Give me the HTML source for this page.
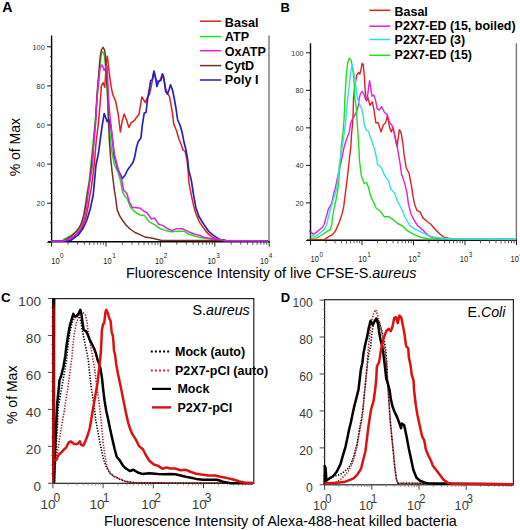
<!DOCTYPE html><html><head><meta charset="utf-8"><style>html,body{margin:0;padding:0;background:#fff;width:520px;height:530px;overflow:hidden}svg{display:block}</style></head><body><svg width="520" height="530" viewBox="0 0 520 530" font-family='"Liberation Sans", sans-serif'>
<rect width="520" height="530" fill="#fff"/>
<line x1="269.0" y1="35.5" x2="269.0" y2="241.8" stroke="#777" stroke-width="1.4"/>
<line x1="51.6" y1="35.5" x2="51.6" y2="242.5" stroke="#000" stroke-width="1.4"/>
<line x1="48.1" y1="241.8" x2="269.6" y2="241.8" stroke="#000" stroke-width="1.4"/>
<line x1="47.1" y1="242.30" x2="51.6" y2="242.30" stroke="#111" stroke-width="1"/>
<line x1="50.0" y1="232.53" x2="51.6" y2="232.53" stroke="#333" stroke-width="0.9"/>
<line x1="50.0" y1="222.75" x2="51.6" y2="222.75" stroke="#333" stroke-width="0.9"/>
<line x1="50.0" y1="212.98" x2="51.6" y2="212.98" stroke="#333" stroke-width="0.9"/>
<line x1="47.1" y1="203.20" x2="51.6" y2="203.20" stroke="#111" stroke-width="1"/>
<line x1="50.0" y1="193.43" x2="51.6" y2="193.43" stroke="#333" stroke-width="0.9"/>
<line x1="50.0" y1="183.65" x2="51.6" y2="183.65" stroke="#333" stroke-width="0.9"/>
<line x1="50.0" y1="173.88" x2="51.6" y2="173.88" stroke="#333" stroke-width="0.9"/>
<line x1="47.1" y1="164.10" x2="51.6" y2="164.10" stroke="#111" stroke-width="1"/>
<line x1="50.0" y1="154.32" x2="51.6" y2="154.32" stroke="#333" stroke-width="0.9"/>
<line x1="50.0" y1="144.55" x2="51.6" y2="144.55" stroke="#333" stroke-width="0.9"/>
<line x1="50.0" y1="134.78" x2="51.6" y2="134.78" stroke="#333" stroke-width="0.9"/>
<line x1="47.1" y1="125.00" x2="51.6" y2="125.00" stroke="#111" stroke-width="1"/>
<line x1="50.0" y1="115.23" x2="51.6" y2="115.23" stroke="#333" stroke-width="0.9"/>
<line x1="50.0" y1="105.45" x2="51.6" y2="105.45" stroke="#333" stroke-width="0.9"/>
<line x1="50.0" y1="95.68" x2="51.6" y2="95.68" stroke="#333" stroke-width="0.9"/>
<line x1="47.1" y1="85.90" x2="51.6" y2="85.90" stroke="#111" stroke-width="1"/>
<line x1="50.0" y1="76.12" x2="51.6" y2="76.12" stroke="#333" stroke-width="0.9"/>
<line x1="50.0" y1="66.35" x2="51.6" y2="66.35" stroke="#333" stroke-width="0.9"/>
<line x1="50.0" y1="56.58" x2="51.6" y2="56.58" stroke="#333" stroke-width="0.9"/>
<line x1="47.1" y1="46.80" x2="51.6" y2="46.80" stroke="#111" stroke-width="1"/>
<text transform="translate(44.8,206.05) scale(0.92,1)" font-size="8" text-anchor="end" fill="#333">20</text>
<text transform="translate(44.8,166.95) scale(0.92,1)" font-size="8" text-anchor="end" fill="#333">40</text>
<text transform="translate(44.8,127.85) scale(0.92,1)" font-size="8" text-anchor="end" fill="#333">60</text>
<text transform="translate(44.8,88.75) scale(0.92,1)" font-size="8" text-anchor="end" fill="#333">80</text>
<text transform="translate(44.8,49.65) scale(0.92,1)" font-size="8" text-anchor="end" fill="#333">100</text>
<line x1="51.60" y1="241.8" x2="51.60" y2="246.60000000000002" stroke="#222" stroke-width="1"/>
<line x1="67.98" y1="241.8" x2="67.98" y2="244.70000000000002" stroke="#444" stroke-width="0.9"/>
<line x1="77.56" y1="241.8" x2="77.56" y2="244.70000000000002" stroke="#444" stroke-width="0.9"/>
<line x1="84.35" y1="241.8" x2="84.35" y2="244.70000000000002" stroke="#444" stroke-width="0.9"/>
<line x1="89.62" y1="241.8" x2="89.62" y2="245.10000000000002" stroke="#444" stroke-width="0.9"/>
<line x1="93.93" y1="241.8" x2="93.93" y2="244.70000000000002" stroke="#444" stroke-width="0.9"/>
<line x1="97.57" y1="241.8" x2="97.57" y2="244.70000000000002" stroke="#444" stroke-width="0.9"/>
<line x1="100.73" y1="241.8" x2="100.73" y2="244.70000000000002" stroke="#444" stroke-width="0.9"/>
<line x1="103.51" y1="241.8" x2="103.51" y2="244.70000000000002" stroke="#444" stroke-width="0.9"/>
<line x1="106.00" y1="241.8" x2="106.00" y2="246.60000000000002" stroke="#222" stroke-width="1"/>
<line x1="122.38" y1="241.8" x2="122.38" y2="244.70000000000002" stroke="#444" stroke-width="0.9"/>
<line x1="131.96" y1="241.8" x2="131.96" y2="244.70000000000002" stroke="#444" stroke-width="0.9"/>
<line x1="138.75" y1="241.8" x2="138.75" y2="244.70000000000002" stroke="#444" stroke-width="0.9"/>
<line x1="144.02" y1="241.8" x2="144.02" y2="245.10000000000002" stroke="#444" stroke-width="0.9"/>
<line x1="148.33" y1="241.8" x2="148.33" y2="244.70000000000002" stroke="#444" stroke-width="0.9"/>
<line x1="151.97" y1="241.8" x2="151.97" y2="244.70000000000002" stroke="#444" stroke-width="0.9"/>
<line x1="155.13" y1="241.8" x2="155.13" y2="244.70000000000002" stroke="#444" stroke-width="0.9"/>
<line x1="157.91" y1="241.8" x2="157.91" y2="244.70000000000002" stroke="#444" stroke-width="0.9"/>
<line x1="160.40" y1="241.8" x2="160.40" y2="246.60000000000002" stroke="#222" stroke-width="1"/>
<line x1="176.78" y1="241.8" x2="176.78" y2="244.70000000000002" stroke="#444" stroke-width="0.9"/>
<line x1="186.36" y1="241.8" x2="186.36" y2="244.70000000000002" stroke="#444" stroke-width="0.9"/>
<line x1="193.15" y1="241.8" x2="193.15" y2="244.70000000000002" stroke="#444" stroke-width="0.9"/>
<line x1="198.42" y1="241.8" x2="198.42" y2="245.10000000000002" stroke="#444" stroke-width="0.9"/>
<line x1="202.73" y1="241.8" x2="202.73" y2="244.70000000000002" stroke="#444" stroke-width="0.9"/>
<line x1="206.37" y1="241.8" x2="206.37" y2="244.70000000000002" stroke="#444" stroke-width="0.9"/>
<line x1="209.53" y1="241.8" x2="209.53" y2="244.70000000000002" stroke="#444" stroke-width="0.9"/>
<line x1="212.31" y1="241.8" x2="212.31" y2="244.70000000000002" stroke="#444" stroke-width="0.9"/>
<line x1="214.80" y1="241.8" x2="214.80" y2="246.60000000000002" stroke="#222" stroke-width="1"/>
<line x1="231.18" y1="241.8" x2="231.18" y2="244.70000000000002" stroke="#444" stroke-width="0.9"/>
<line x1="240.76" y1="241.8" x2="240.76" y2="244.70000000000002" stroke="#444" stroke-width="0.9"/>
<line x1="247.55" y1="241.8" x2="247.55" y2="244.70000000000002" stroke="#444" stroke-width="0.9"/>
<line x1="252.82" y1="241.8" x2="252.82" y2="245.10000000000002" stroke="#444" stroke-width="0.9"/>
<line x1="257.13" y1="241.8" x2="257.13" y2="244.70000000000002" stroke="#444" stroke-width="0.9"/>
<line x1="260.77" y1="241.8" x2="260.77" y2="244.70000000000002" stroke="#444" stroke-width="0.9"/>
<line x1="263.93" y1="241.8" x2="263.93" y2="244.70000000000002" stroke="#444" stroke-width="0.9"/>
<line x1="266.71" y1="241.8" x2="266.71" y2="244.70000000000002" stroke="#444" stroke-width="0.9"/>
<line x1="269.20" y1="241.8" x2="269.20" y2="246.60000000000002" stroke="#222" stroke-width="1"/>
<line x1="516.4" y1="43.3" x2="516.4" y2="240.3" stroke="#777" stroke-width="1.4"/>
<line x1="310.5" y1="43.3" x2="310.5" y2="241.0" stroke="#000" stroke-width="1.4"/>
<line x1="307.0" y1="240.3" x2="517.0" y2="240.3" stroke="#000" stroke-width="1.4"/>
<line x1="306.0" y1="240.40" x2="310.5" y2="240.40" stroke="#111" stroke-width="1"/>
<line x1="308.9" y1="231.02" x2="310.5" y2="231.02" stroke="#333" stroke-width="0.9"/>
<line x1="308.9" y1="221.64" x2="310.5" y2="221.64" stroke="#333" stroke-width="0.9"/>
<line x1="308.9" y1="212.26" x2="310.5" y2="212.26" stroke="#333" stroke-width="0.9"/>
<line x1="306.0" y1="202.88" x2="310.5" y2="202.88" stroke="#111" stroke-width="1"/>
<line x1="308.9" y1="193.50" x2="310.5" y2="193.50" stroke="#333" stroke-width="0.9"/>
<line x1="308.9" y1="184.12" x2="310.5" y2="184.12" stroke="#333" stroke-width="0.9"/>
<line x1="308.9" y1="174.74" x2="310.5" y2="174.74" stroke="#333" stroke-width="0.9"/>
<line x1="306.0" y1="165.36" x2="310.5" y2="165.36" stroke="#111" stroke-width="1"/>
<line x1="308.9" y1="155.98" x2="310.5" y2="155.98" stroke="#333" stroke-width="0.9"/>
<line x1="308.9" y1="146.60" x2="310.5" y2="146.60" stroke="#333" stroke-width="0.9"/>
<line x1="308.9" y1="137.22" x2="310.5" y2="137.22" stroke="#333" stroke-width="0.9"/>
<line x1="306.0" y1="127.84" x2="310.5" y2="127.84" stroke="#111" stroke-width="1"/>
<line x1="308.9" y1="118.46" x2="310.5" y2="118.46" stroke="#333" stroke-width="0.9"/>
<line x1="308.9" y1="109.08" x2="310.5" y2="109.08" stroke="#333" stroke-width="0.9"/>
<line x1="308.9" y1="99.70" x2="310.5" y2="99.70" stroke="#333" stroke-width="0.9"/>
<line x1="306.0" y1="90.32" x2="310.5" y2="90.32" stroke="#111" stroke-width="1"/>
<line x1="308.9" y1="80.94" x2="310.5" y2="80.94" stroke="#333" stroke-width="0.9"/>
<line x1="308.9" y1="71.56" x2="310.5" y2="71.56" stroke="#333" stroke-width="0.9"/>
<line x1="308.9" y1="62.18" x2="310.5" y2="62.18" stroke="#333" stroke-width="0.9"/>
<line x1="306.0" y1="52.80" x2="310.5" y2="52.80" stroke="#111" stroke-width="1"/>
<text transform="translate(303.6,205.73) scale(0.92,1)" font-size="8" text-anchor="end" fill="#333">20</text>
<text transform="translate(303.6,168.21) scale(0.92,1)" font-size="8" text-anchor="end" fill="#333">40</text>
<text transform="translate(303.6,130.69) scale(0.92,1)" font-size="8" text-anchor="end" fill="#333">60</text>
<text transform="translate(303.6,93.17) scale(0.92,1)" font-size="8" text-anchor="end" fill="#333">80</text>
<text transform="translate(303.6,55.65) scale(0.92,1)" font-size="8" text-anchor="end" fill="#333">100</text>
<line x1="310.50" y1="240.3" x2="310.50" y2="245.10000000000002" stroke="#222" stroke-width="1"/>
<line x1="326.00" y1="240.3" x2="326.00" y2="243.20000000000002" stroke="#444" stroke-width="0.9"/>
<line x1="335.07" y1="240.3" x2="335.07" y2="243.20000000000002" stroke="#444" stroke-width="0.9"/>
<line x1="341.51" y1="240.3" x2="341.51" y2="243.20000000000002" stroke="#444" stroke-width="0.9"/>
<line x1="346.50" y1="240.3" x2="346.50" y2="243.60000000000002" stroke="#444" stroke-width="0.9"/>
<line x1="350.57" y1="240.3" x2="350.57" y2="243.20000000000002" stroke="#444" stroke-width="0.9"/>
<line x1="354.02" y1="240.3" x2="354.02" y2="243.20000000000002" stroke="#444" stroke-width="0.9"/>
<line x1="357.01" y1="240.3" x2="357.01" y2="243.20000000000002" stroke="#444" stroke-width="0.9"/>
<line x1="359.64" y1="240.3" x2="359.64" y2="243.20000000000002" stroke="#444" stroke-width="0.9"/>
<line x1="362.00" y1="240.3" x2="362.00" y2="245.10000000000002" stroke="#222" stroke-width="1"/>
<line x1="377.50" y1="240.3" x2="377.50" y2="243.20000000000002" stroke="#444" stroke-width="0.9"/>
<line x1="386.57" y1="240.3" x2="386.57" y2="243.20000000000002" stroke="#444" stroke-width="0.9"/>
<line x1="393.01" y1="240.3" x2="393.01" y2="243.20000000000002" stroke="#444" stroke-width="0.9"/>
<line x1="398.00" y1="240.3" x2="398.00" y2="243.60000000000002" stroke="#444" stroke-width="0.9"/>
<line x1="402.07" y1="240.3" x2="402.07" y2="243.20000000000002" stroke="#444" stroke-width="0.9"/>
<line x1="405.52" y1="240.3" x2="405.52" y2="243.20000000000002" stroke="#444" stroke-width="0.9"/>
<line x1="408.51" y1="240.3" x2="408.51" y2="243.20000000000002" stroke="#444" stroke-width="0.9"/>
<line x1="411.14" y1="240.3" x2="411.14" y2="243.20000000000002" stroke="#444" stroke-width="0.9"/>
<line x1="413.50" y1="240.3" x2="413.50" y2="245.10000000000002" stroke="#222" stroke-width="1"/>
<line x1="429.00" y1="240.3" x2="429.00" y2="243.20000000000002" stroke="#444" stroke-width="0.9"/>
<line x1="438.07" y1="240.3" x2="438.07" y2="243.20000000000002" stroke="#444" stroke-width="0.9"/>
<line x1="444.51" y1="240.3" x2="444.51" y2="243.20000000000002" stroke="#444" stroke-width="0.9"/>
<line x1="449.50" y1="240.3" x2="449.50" y2="243.60000000000002" stroke="#444" stroke-width="0.9"/>
<line x1="453.57" y1="240.3" x2="453.57" y2="243.20000000000002" stroke="#444" stroke-width="0.9"/>
<line x1="457.02" y1="240.3" x2="457.02" y2="243.20000000000002" stroke="#444" stroke-width="0.9"/>
<line x1="460.01" y1="240.3" x2="460.01" y2="243.20000000000002" stroke="#444" stroke-width="0.9"/>
<line x1="462.64" y1="240.3" x2="462.64" y2="243.20000000000002" stroke="#444" stroke-width="0.9"/>
<line x1="465.00" y1="240.3" x2="465.00" y2="245.10000000000002" stroke="#222" stroke-width="1"/>
<line x1="480.50" y1="240.3" x2="480.50" y2="243.20000000000002" stroke="#444" stroke-width="0.9"/>
<line x1="489.57" y1="240.3" x2="489.57" y2="243.20000000000002" stroke="#444" stroke-width="0.9"/>
<line x1="496.01" y1="240.3" x2="496.01" y2="243.20000000000002" stroke="#444" stroke-width="0.9"/>
<line x1="501.00" y1="240.3" x2="501.00" y2="243.60000000000002" stroke="#444" stroke-width="0.9"/>
<line x1="505.07" y1="240.3" x2="505.07" y2="243.20000000000002" stroke="#444" stroke-width="0.9"/>
<line x1="508.52" y1="240.3" x2="508.52" y2="243.20000000000002" stroke="#444" stroke-width="0.9"/>
<line x1="511.51" y1="240.3" x2="511.51" y2="243.20000000000002" stroke="#444" stroke-width="0.9"/>
<line x1="514.14" y1="240.3" x2="514.14" y2="243.20000000000002" stroke="#444" stroke-width="0.9"/>
<line x1="516.50" y1="240.3" x2="516.50" y2="245.10000000000002" stroke="#222" stroke-width="1"/>
<rect x="52.9" y="298.6" width="200.9" height="184.7" fill="none" stroke="#222" stroke-width="1.2"/>
<line x1="47.9" y1="483.30" x2="52.9" y2="483.30" stroke="#444" stroke-width="1"/>
<line x1="50.9" y1="474.06" x2="52.9" y2="474.06" stroke="#888" stroke-width="0.9"/>
<line x1="50.9" y1="464.82" x2="52.9" y2="464.82" stroke="#888" stroke-width="0.9"/>
<line x1="50.9" y1="455.58" x2="52.9" y2="455.58" stroke="#888" stroke-width="0.9"/>
<line x1="47.9" y1="446.34" x2="52.9" y2="446.34" stroke="#444" stroke-width="1"/>
<line x1="50.9" y1="437.10" x2="52.9" y2="437.10" stroke="#888" stroke-width="0.9"/>
<line x1="50.9" y1="427.86" x2="52.9" y2="427.86" stroke="#888" stroke-width="0.9"/>
<line x1="50.9" y1="418.62" x2="52.9" y2="418.62" stroke="#888" stroke-width="0.9"/>
<line x1="47.9" y1="409.38" x2="52.9" y2="409.38" stroke="#444" stroke-width="1"/>
<line x1="50.9" y1="400.14" x2="52.9" y2="400.14" stroke="#888" stroke-width="0.9"/>
<line x1="50.9" y1="390.90" x2="52.9" y2="390.90" stroke="#888" stroke-width="0.9"/>
<line x1="50.9" y1="381.66" x2="52.9" y2="381.66" stroke="#888" stroke-width="0.9"/>
<line x1="47.9" y1="372.42" x2="52.9" y2="372.42" stroke="#444" stroke-width="1"/>
<line x1="50.9" y1="363.18" x2="52.9" y2="363.18" stroke="#888" stroke-width="0.9"/>
<line x1="50.9" y1="353.94" x2="52.9" y2="353.94" stroke="#888" stroke-width="0.9"/>
<line x1="50.9" y1="344.70" x2="52.9" y2="344.70" stroke="#888" stroke-width="0.9"/>
<line x1="47.9" y1="335.46" x2="52.9" y2="335.46" stroke="#444" stroke-width="1"/>
<line x1="50.9" y1="326.22" x2="52.9" y2="326.22" stroke="#888" stroke-width="0.9"/>
<line x1="50.9" y1="316.98" x2="52.9" y2="316.98" stroke="#888" stroke-width="0.9"/>
<line x1="50.9" y1="307.74" x2="52.9" y2="307.74" stroke="#888" stroke-width="0.9"/>
<line x1="47.9" y1="298.50" x2="52.9" y2="298.50" stroke="#444" stroke-width="1"/>
<text transform="translate(40.9,490.50) scale(1.0,1)" font-size="13.5" text-anchor="end" fill="#3a3a3a">0</text>
<text transform="translate(40.9,453.54) scale(1.0,1)" font-size="13.5" text-anchor="end" fill="#3a3a3a">20</text>
<text transform="translate(40.9,416.58) scale(1.0,1)" font-size="13.5" text-anchor="end" fill="#3a3a3a">40</text>
<text transform="translate(40.9,379.62) scale(1.0,1)" font-size="13.5" text-anchor="end" fill="#3a3a3a">60</text>
<text transform="translate(40.9,342.66) scale(1.0,1)" font-size="13.5" text-anchor="end" fill="#3a3a3a">80</text>
<text transform="translate(40.9,305.70) scale(1.0,1)" font-size="13.5" text-anchor="end" fill="#3a3a3a">100</text>
<line x1="52.90" y1="483.3" x2="52.90" y2="488.3" stroke="#444" stroke-width="1"/>
<line x1="68.01" y1="483.3" x2="68.01" y2="485.5" stroke="#888" stroke-width="0.9"/>
<line x1="76.85" y1="483.3" x2="76.85" y2="485.5" stroke="#888" stroke-width="0.9"/>
<line x1="83.12" y1="483.3" x2="83.12" y2="485.5" stroke="#888" stroke-width="0.9"/>
<line x1="87.99" y1="483.3" x2="87.99" y2="485.5" stroke="#888" stroke-width="0.9"/>
<line x1="91.96" y1="483.3" x2="91.96" y2="485.5" stroke="#888" stroke-width="0.9"/>
<line x1="95.32" y1="483.3" x2="95.32" y2="485.5" stroke="#888" stroke-width="0.9"/>
<line x1="98.24" y1="483.3" x2="98.24" y2="485.5" stroke="#888" stroke-width="0.9"/>
<line x1="100.80" y1="483.3" x2="100.80" y2="485.5" stroke="#888" stroke-width="0.9"/>
<line x1="103.10" y1="483.3" x2="103.10" y2="488.3" stroke="#444" stroke-width="1"/>
<line x1="118.21" y1="483.3" x2="118.21" y2="485.5" stroke="#888" stroke-width="0.9"/>
<line x1="127.05" y1="483.3" x2="127.05" y2="485.5" stroke="#888" stroke-width="0.9"/>
<line x1="133.32" y1="483.3" x2="133.32" y2="485.5" stroke="#888" stroke-width="0.9"/>
<line x1="138.19" y1="483.3" x2="138.19" y2="485.5" stroke="#888" stroke-width="0.9"/>
<line x1="142.16" y1="483.3" x2="142.16" y2="485.5" stroke="#888" stroke-width="0.9"/>
<line x1="145.52" y1="483.3" x2="145.52" y2="485.5" stroke="#888" stroke-width="0.9"/>
<line x1="148.44" y1="483.3" x2="148.44" y2="485.5" stroke="#888" stroke-width="0.9"/>
<line x1="151.00" y1="483.3" x2="151.00" y2="485.5" stroke="#888" stroke-width="0.9"/>
<line x1="153.30" y1="483.3" x2="153.30" y2="488.3" stroke="#444" stroke-width="1"/>
<line x1="168.41" y1="483.3" x2="168.41" y2="485.5" stroke="#888" stroke-width="0.9"/>
<line x1="177.25" y1="483.3" x2="177.25" y2="485.5" stroke="#888" stroke-width="0.9"/>
<line x1="183.52" y1="483.3" x2="183.52" y2="485.5" stroke="#888" stroke-width="0.9"/>
<line x1="188.39" y1="483.3" x2="188.39" y2="485.5" stroke="#888" stroke-width="0.9"/>
<line x1="192.36" y1="483.3" x2="192.36" y2="485.5" stroke="#888" stroke-width="0.9"/>
<line x1="195.72" y1="483.3" x2="195.72" y2="485.5" stroke="#888" stroke-width="0.9"/>
<line x1="198.64" y1="483.3" x2="198.64" y2="485.5" stroke="#888" stroke-width="0.9"/>
<line x1="201.20" y1="483.3" x2="201.20" y2="485.5" stroke="#888" stroke-width="0.9"/>
<line x1="203.50" y1="483.3" x2="203.50" y2="488.3" stroke="#444" stroke-width="1"/>
<line x1="218.61" y1="483.3" x2="218.61" y2="485.5" stroke="#888" stroke-width="0.9"/>
<line x1="227.45" y1="483.3" x2="227.45" y2="485.5" stroke="#888" stroke-width="0.9"/>
<line x1="233.72" y1="483.3" x2="233.72" y2="485.5" stroke="#888" stroke-width="0.9"/>
<line x1="238.59" y1="483.3" x2="238.59" y2="485.5" stroke="#888" stroke-width="0.9"/>
<line x1="242.56" y1="483.3" x2="242.56" y2="485.5" stroke="#888" stroke-width="0.9"/>
<line x1="245.92" y1="483.3" x2="245.92" y2="485.5" stroke="#888" stroke-width="0.9"/>
<line x1="248.84" y1="483.3" x2="248.84" y2="485.5" stroke="#888" stroke-width="0.9"/>
<line x1="251.40" y1="483.3" x2="251.40" y2="485.5" stroke="#888" stroke-width="0.9"/>
<rect x="324.6" y="299.7" width="188.79999999999995" height="185.10000000000002" fill="none" stroke="#222" stroke-width="1.2"/>
<line x1="319.6" y1="484.80" x2="324.6" y2="484.80" stroke="#444" stroke-width="1"/>
<line x1="322.6" y1="475.56" x2="324.6" y2="475.56" stroke="#888" stroke-width="0.9"/>
<line x1="322.6" y1="466.33" x2="324.6" y2="466.33" stroke="#888" stroke-width="0.9"/>
<line x1="322.6" y1="457.10" x2="324.6" y2="457.10" stroke="#888" stroke-width="0.9"/>
<line x1="319.6" y1="447.86" x2="324.6" y2="447.86" stroke="#444" stroke-width="1"/>
<line x1="322.6" y1="438.62" x2="324.6" y2="438.62" stroke="#888" stroke-width="0.9"/>
<line x1="322.6" y1="429.39" x2="324.6" y2="429.39" stroke="#888" stroke-width="0.9"/>
<line x1="322.6" y1="420.16" x2="324.6" y2="420.16" stroke="#888" stroke-width="0.9"/>
<line x1="319.6" y1="410.92" x2="324.6" y2="410.92" stroke="#444" stroke-width="1"/>
<line x1="322.6" y1="401.69" x2="324.6" y2="401.69" stroke="#888" stroke-width="0.9"/>
<line x1="322.6" y1="392.45" x2="324.6" y2="392.45" stroke="#888" stroke-width="0.9"/>
<line x1="322.6" y1="383.22" x2="324.6" y2="383.22" stroke="#888" stroke-width="0.9"/>
<line x1="319.6" y1="373.98" x2="324.6" y2="373.98" stroke="#444" stroke-width="1"/>
<line x1="322.6" y1="364.75" x2="324.6" y2="364.75" stroke="#888" stroke-width="0.9"/>
<line x1="322.6" y1="355.51" x2="324.6" y2="355.51" stroke="#888" stroke-width="0.9"/>
<line x1="322.6" y1="346.27" x2="324.6" y2="346.27" stroke="#888" stroke-width="0.9"/>
<line x1="319.6" y1="337.04" x2="324.6" y2="337.04" stroke="#444" stroke-width="1"/>
<line x1="322.6" y1="327.81" x2="324.6" y2="327.81" stroke="#888" stroke-width="0.9"/>
<line x1="322.6" y1="318.57" x2="324.6" y2="318.57" stroke="#888" stroke-width="0.9"/>
<line x1="322.6" y1="309.34" x2="324.6" y2="309.34" stroke="#888" stroke-width="0.9"/>
<line x1="319.6" y1="300.10" x2="324.6" y2="300.10" stroke="#444" stroke-width="1"/>
<text transform="translate(312.8,492.00) scale(0.9,1)" font-size="13.5" text-anchor="end" fill="#3a3a3a">0</text>
<text transform="translate(312.8,455.06) scale(0.9,1)" font-size="13.5" text-anchor="end" fill="#3a3a3a">20</text>
<text transform="translate(312.8,418.12) scale(0.9,1)" font-size="13.5" text-anchor="end" fill="#3a3a3a">40</text>
<text transform="translate(312.8,381.18) scale(0.9,1)" font-size="13.5" text-anchor="end" fill="#3a3a3a">60</text>
<text transform="translate(312.8,344.24) scale(0.9,1)" font-size="13.5" text-anchor="end" fill="#3a3a3a">80</text>
<text transform="translate(312.8,307.30) scale(0.9,1)" font-size="13.5" text-anchor="end" fill="#3a3a3a">100</text>
<line x1="324.60" y1="484.8" x2="324.60" y2="489.8" stroke="#444" stroke-width="1"/>
<line x1="338.81" y1="484.8" x2="338.81" y2="487.0" stroke="#888" stroke-width="0.9"/>
<line x1="347.12" y1="484.8" x2="347.12" y2="487.0" stroke="#888" stroke-width="0.9"/>
<line x1="353.02" y1="484.8" x2="353.02" y2="487.0" stroke="#888" stroke-width="0.9"/>
<line x1="357.59" y1="484.8" x2="357.59" y2="487.0" stroke="#888" stroke-width="0.9"/>
<line x1="361.33" y1="484.8" x2="361.33" y2="487.0" stroke="#888" stroke-width="0.9"/>
<line x1="364.49" y1="484.8" x2="364.49" y2="487.0" stroke="#888" stroke-width="0.9"/>
<line x1="367.23" y1="484.8" x2="367.23" y2="487.0" stroke="#888" stroke-width="0.9"/>
<line x1="369.64" y1="484.8" x2="369.64" y2="487.0" stroke="#888" stroke-width="0.9"/>
<line x1="371.80" y1="484.8" x2="371.80" y2="489.8" stroke="#444" stroke-width="1"/>
<line x1="386.01" y1="484.8" x2="386.01" y2="487.0" stroke="#888" stroke-width="0.9"/>
<line x1="394.32" y1="484.8" x2="394.32" y2="487.0" stroke="#888" stroke-width="0.9"/>
<line x1="400.22" y1="484.8" x2="400.22" y2="487.0" stroke="#888" stroke-width="0.9"/>
<line x1="404.79" y1="484.8" x2="404.79" y2="487.0" stroke="#888" stroke-width="0.9"/>
<line x1="408.53" y1="484.8" x2="408.53" y2="487.0" stroke="#888" stroke-width="0.9"/>
<line x1="411.69" y1="484.8" x2="411.69" y2="487.0" stroke="#888" stroke-width="0.9"/>
<line x1="414.43" y1="484.8" x2="414.43" y2="487.0" stroke="#888" stroke-width="0.9"/>
<line x1="416.84" y1="484.8" x2="416.84" y2="487.0" stroke="#888" stroke-width="0.9"/>
<line x1="419.00" y1="484.8" x2="419.00" y2="489.8" stroke="#444" stroke-width="1"/>
<line x1="433.21" y1="484.8" x2="433.21" y2="487.0" stroke="#888" stroke-width="0.9"/>
<line x1="441.52" y1="484.8" x2="441.52" y2="487.0" stroke="#888" stroke-width="0.9"/>
<line x1="447.42" y1="484.8" x2="447.42" y2="487.0" stroke="#888" stroke-width="0.9"/>
<line x1="451.99" y1="484.8" x2="451.99" y2="487.0" stroke="#888" stroke-width="0.9"/>
<line x1="455.73" y1="484.8" x2="455.73" y2="487.0" stroke="#888" stroke-width="0.9"/>
<line x1="458.89" y1="484.8" x2="458.89" y2="487.0" stroke="#888" stroke-width="0.9"/>
<line x1="461.63" y1="484.8" x2="461.63" y2="487.0" stroke="#888" stroke-width="0.9"/>
<line x1="464.04" y1="484.8" x2="464.04" y2="487.0" stroke="#888" stroke-width="0.9"/>
<line x1="466.20" y1="484.8" x2="466.20" y2="489.8" stroke="#444" stroke-width="1"/>
<line x1="480.41" y1="484.8" x2="480.41" y2="487.0" stroke="#888" stroke-width="0.9"/>
<line x1="488.72" y1="484.8" x2="488.72" y2="487.0" stroke="#888" stroke-width="0.9"/>
<line x1="494.62" y1="484.8" x2="494.62" y2="487.0" stroke="#888" stroke-width="0.9"/>
<line x1="499.19" y1="484.8" x2="499.19" y2="487.0" stroke="#888" stroke-width="0.9"/>
<line x1="502.93" y1="484.8" x2="502.93" y2="487.0" stroke="#888" stroke-width="0.9"/>
<line x1="506.09" y1="484.8" x2="506.09" y2="487.0" stroke="#888" stroke-width="0.9"/>
<line x1="508.83" y1="484.8" x2="508.83" y2="487.0" stroke="#888" stroke-width="0.9"/>
<line x1="511.24" y1="484.8" x2="511.24" y2="487.0" stroke="#888" stroke-width="0.9"/>
<text x="2.2" y="11.6" font-size="14.2" font-weight="bold">A</text>
<text x="280.6" y="11.7" font-size="13" font-weight="bold">B</text>
<text x="0.9" y="301.7" font-size="13.4" font-weight="bold">C</text>
<text x="280.7" y="302.4" font-size="13" font-weight="bold">D</text>
<text transform="translate(20.4,147.2) rotate(-90)" font-size="14" text-anchor="middle">% of Max</text>
<text transform="translate(17.0,394.8) rotate(-90)" font-size="14" text-anchor="middle">% of Max</text>
<text transform="translate(51.2,263.6) scale(0.92,1)" font-size="8.2" fill="#222">10<tspan dx="0.5" dy="-5.2" font-size="7">0</tspan></text>
<text transform="translate(103.3,263.6) scale(0.92,1)" font-size="8.2" fill="#222">10<tspan dx="0.5" dy="-5.2" font-size="7">1</tspan></text>
<text transform="translate(155.0,263.6) scale(0.92,1)" font-size="8.2" fill="#222">10<tspan dx="0.5" dy="-5.2" font-size="7">2</tspan></text>
<text transform="translate(207.4,263.6) scale(0.92,1)" font-size="8.2" fill="#222">10<tspan dx="0.5" dy="-5.2" font-size="7">3</tspan></text>
<text transform="translate(260.0,263.6) scale(0.92,1)" font-size="8.2" fill="#222">10<tspan dx="0.5" dy="-5.2" font-size="7">4</tspan></text>
<text transform="translate(310.6,262.3) scale(0.92,1)" font-size="8.2" fill="#222">10<tspan dx="0.5" dy="-5.2" font-size="7">0</tspan></text>
<text transform="translate(358.3,262.3) scale(0.92,1)" font-size="8.2" fill="#222">10<tspan dx="0.5" dy="-5.2" font-size="7">1</tspan></text>
<text transform="translate(408.3,262.3) scale(0.92,1)" font-size="8.2" fill="#222">10<tspan dx="0.5" dy="-5.2" font-size="7">2</tspan></text>
<text transform="translate(459.8,262.3) scale(0.92,1)" font-size="8.2" fill="#222">10<tspan dx="0.5" dy="-5.2" font-size="7">3</tspan></text>
<text transform="translate(510.5,262.3) scale(0.92,1)" font-size="8.2" fill="#222">10<tspan dx="0.5" dy="-5.2" font-size="7">4</tspan></text>
<text transform="translate(40.4,508.8) scale(1.0,1)" font-size="13.6" fill="#3a3a3a">10<tspan dx="-2" dy="-6.4" font-size="12">0</tspan></text>
<text transform="translate(89.5,508.8) scale(1.0,1)" font-size="13.6" fill="#3a3a3a">10<tspan dx="-2" dy="-6.4" font-size="12">1</tspan></text>
<text transform="translate(141.2,508.8) scale(1.0,1)" font-size="13.6" fill="#3a3a3a">10<tspan dx="-2" dy="-6.4" font-size="12">2</tspan></text>
<text transform="translate(191.7,508.8) scale(1.0,1)" font-size="13.6" fill="#3a3a3a">10<tspan dx="-2" dy="-6.4" font-size="12">3</tspan></text>
<text transform="translate(313.0,509.7) scale(0.93,1)" font-size="13.6" fill="#3a3a3a">10<tspan dx="-2" dy="-6.4" font-size="12">0</tspan></text>
<text transform="translate(358.9,509.7) scale(0.93,1)" font-size="13.6" fill="#3a3a3a">10<tspan dx="-2" dy="-6.4" font-size="12">1</tspan></text>
<text transform="translate(407.0,509.7) scale(0.93,1)" font-size="13.6" fill="#3a3a3a">10<tspan dx="-2" dy="-6.4" font-size="12">2</tspan></text>
<text transform="translate(454.6,509.7) scale(0.93,1)" font-size="13.6" fill="#3a3a3a">10<tspan dx="-2" dy="-6.4" font-size="12">3</tspan></text>
<text x="126.0" y="277.7" font-size="14.4">Fluorescence Intensity of live CFSE-S.<tspan font-style="italic">aureus</tspan></text>
<text x="104.1" y="525.6" font-size="14.4">Fluorescence Intensity of Alexa-488-heat killed bacteria</text>
<line x1="199.9" y1="21.2" x2="221.2" y2="21.2" stroke="#e0201c" stroke-width="1.5"/>
<text x="224.8" y="27" font-size="12.6" font-weight="bold">Basal</text>
<line x1="199.9" y1="36.6" x2="221.2" y2="36.6" stroke="#22dd22" stroke-width="1.5"/>
<text x="224.8" y="41.4" font-size="12.6" font-weight="bold">ATP</text>
<line x1="199.9" y1="50.7" x2="221.2" y2="50.7" stroke="#e020e0" stroke-width="1.5"/>
<text x="224.8" y="55.5" font-size="12.6" font-weight="bold">OxATP</text>
<line x1="199.9" y1="65.6" x2="221.2" y2="65.6" stroke="#7a3026" stroke-width="1.5"/>
<text x="224.8" y="70" font-size="12.6" font-weight="bold">CytD</text>
<line x1="199.9" y1="80" x2="221.2" y2="80" stroke="#2222bb" stroke-width="1.5"/>
<text x="224.8" y="84.4" font-size="12.6" font-weight="bold">Poly I</text>
<line x1="369.4" y1="10.3" x2="390.4" y2="10.3" stroke="#e0201c" stroke-width="1.5"/>
<text x="394.6" y="15.6" font-size="12.45" font-weight="bold">Basal</text>
<line x1="369.4" y1="26.2" x2="390.4" y2="26.2" stroke="#e020e0" stroke-width="1.5"/>
<text x="394.6" y="29.9" font-size="12.45" font-weight="bold">P2X7-ED (15, boiled)</text>
<line x1="369.4" y1="39.5" x2="390.4" y2="39.5" stroke="#22e0e8" stroke-width="1.5"/>
<text x="394.6" y="44.1" font-size="12.45" font-weight="bold">P2X7-ED (3)</text>
<line x1="369.4" y1="55.3" x2="390.4" y2="55.3" stroke="#22dd22" stroke-width="1.5"/>
<text x="394.6" y="58.8" font-size="12.45" font-weight="bold">P2X7-ED (15)</text>
<line x1="150.8" y1="351.4" x2="170.5" y2="351.4" stroke="#000" stroke-width="2" stroke-dasharray="2 2.1"/>
<text x="175.0" y="355.7" font-size="12.5" font-weight="bold">Mock (auto)</text>
<line x1="150.8" y1="370.6" x2="170.5" y2="370.6" stroke="#c8304a" stroke-width="2" stroke-dasharray="2 2.1"/>
<text x="175.0" y="375.3" font-size="12.5" font-weight="bold">P2X7-pCI (auto)</text>
<line x1="152" y1="388.9" x2="171" y2="388.9" stroke="#000" stroke-width="2.2"/>
<text x="177.4" y="392.6" font-size="12.5" font-weight="bold">Mock</text>
<line x1="152" y1="407.4" x2="171" y2="407.4" stroke="#dd1111" stroke-width="2.4"/>
<text x="177.4" y="411.5" font-size="12.5" font-weight="bold">P2X7-pCI</text>
<text x="192.5" y="314.6" font-size="14.3">S.<tspan font-style="italic">aureus</tspan></text>
<text x="467.5" y="316.5" font-size="14.2">E.<tspan font-style="italic">Coli</tspan></text>
<defs><linearGradient id="gbar" x1="0" y1="0" x2="0" y2="1"><stop offset="0" stop-color="#000"/><stop offset="0.025" stop-color="#200000"/><stop offset="0.06" stop-color="#8a0a0a"/><stop offset="0.5" stop-color="#a00c0c"/><stop offset="1" stop-color="#b01010"/></linearGradient></defs>
<polyline points="51.5,241.2 63.0,241.1 69.5,239.6 77.6,233.7 82.4,227.1 85.7,218.6 88.0,207.3 89.9,195.0 91.3,188.1 94.2,165.0 96.2,141.2 98.5,122.7 100.8,95.0 101.3,86.2 103.1,82.7 104.8,87.3 106.3,63.0 107.3,56.2 108.8,68.8 110.2,80.4 111.7,89.6 112.9,95.0 115.8,101.9 118.1,113.5 120.4,131.9 122.1,121.5 124.2,114.0 126.7,120.4 128.8,127.3 131.3,122.7 134.5,120.4 136.5,117.5 139.0,114.2 141.9,96.9 145.4,102.7 147.7,96.9 149.4,94.6 151.2,86.5 152.3,80.8 154.0,71.5 156.3,80.2 158.1,81.9 159.8,80.8 162.1,75.0 163.8,79.0 165.6,88.8 167.3,92.9 169.6,96.9 170.8,103.8 172.5,113.1 173.7,123.8 176.5,130.8 178.8,138.8 181.2,144.6 182.9,149.8 185.2,151.5 186.9,159.6 188.1,170.0 189.0,183.1 191.3,195.2 193.6,205.7 195.8,213.2 198.8,220.8 202.6,226.8 207.1,232.8 211.7,236.6 216.2,238.9 219.2,239.6 225.0,240.6 268.0,240.9" fill="none" stroke="#e0201c" stroke-width="1.5" stroke-linejoin="round"/>
<polyline points="51.5,241.2 62.0,241.1 64.4,238.9 71.0,235.6 76.7,230.8 80.5,225.2 83.3,216.7 85.2,206.3 86.6,195.0 89.0,182.3 90.8,165.0 93.3,140.0 95.3,120.0 97.3,95.0 98.8,78.0 100.2,63.0 101.2,55.0 102.5,51.8 103.6,52.5 104.6,57.0 105.4,66.0 106.3,78.0 107.2,92.0 108.2,110.0 109.6,130.0 111.5,150.0 114.5,165.0 117.7,171.5 120.6,180.8 122.3,191.2 124.6,195.8 127.5,199.2 130.4,207.3 135.0,211.9 140.0,215.0 144.6,215.6 149.2,221.9 155.0,224.8 159.6,228.3 165.4,230.6 171.2,231.7 178.1,231.2 183.8,231.2 188.5,234.0 195.4,236.3 200.0,237.5 210.2,238.9 218.0,240.0 225.0,240.6 268.0,240.9" fill="none" stroke="#22dd22" stroke-width="1.5" stroke-linejoin="round"/>
<polyline points="51.5,241.2 63.0,241.1 66.0,239.3 71.5,236.0 77.0,231.0 81.0,225.0 83.8,216.0 85.8,205.0 87.3,195.0 89.6,181.0 91.5,165.0 93.8,142.0 95.6,120.0 96.7,100.0 97.3,90.8 98.5,76.9 99.6,63.0 100.4,55.4 101.3,50.4 103.1,47.3 104.6,50.0 105.4,55.4 105.8,64.6 106.5,78.0 107.5,90.8 107.9,100.0 108.3,118.0 109.4,141.0 110.8,160.0 112.5,175.0 114.2,188.8 116.0,200.4 117.1,209.6 119.4,215.4 122.3,220.0 126.0,225.0 130.0,229.0 135.0,232.5 140.0,234.6 144.6,236.9 151.5,238.1 160.8,240.2 200.0,240.6 268.0,240.9" fill="none" stroke="#7a3026" stroke-width="1.5" stroke-linejoin="round"/>
<polyline points="51.5,241.2 63.0,241.2 71.0,240.3 78.6,234.6 83.3,228.0 87.1,219.5 90.4,208.2 93.2,195.0 94.4,182.3 96.0,165.0 98.5,153.0 100.8,135.4 102.5,123.8 104.2,113.5 107.1,121.5 108.8,119.2 110.6,125.0 111.7,133.0 112.9,143.5 114.0,155.0 115.4,160.0 117.7,169.2 122.3,178.5 125.2,175.0 127.5,170.0 130.5,166.0 133.1,162.3 134.8,156.5 136.5,147.3 138.3,141.5 140.9,138.1 142.3,125.4 144.2,113.1 146.0,112.5 147.7,98.1 149.4,88.8 150.6,80.8 152.3,79.6 154.0,71.0 155.8,79.6 156.9,86.5 158.7,81.3 161.0,80.2 162.5,73.8 163.8,77.3 165.6,91.2 167.3,94.0 169.0,90.0 170.5,84.8 172.5,90.0 174.2,98.1 176.0,108.5 177.7,120.0 180.0,125.0 182.3,133.1 184.0,142.3 185.8,149.2 187.5,158.5 188.7,170.0 191.3,180.1 193.6,195.2 195.8,207.2 198.8,216.3 203.4,223.8 208.6,231.3 213.2,235.1 217.7,238.1 220.0,239.6 226.0,240.6 268.0,240.9" fill="none" stroke="#2222c0" stroke-width="1.7" stroke-linejoin="round"/>
<polyline points="51.5,241.2 63.0,241.1 69.2,239.3 75.8,234.6 80.5,229.0 84.2,219.5 86.6,208.2 88.0,195.0 89.8,182.0 92.5,165.0 93.8,143.5 95.6,123.8 97.3,95.0 99.0,78.0 100.0,69.0 100.8,66.0 101.8,65.0 103.0,67.0 104.2,70.6 105.5,68.0 107.1,66.0 107.7,78.0 108.4,95.0 109.4,110.0 110.4,120.0 111.5,130.0 112.9,143.5 114.6,155.0 116.3,162.0 118.8,171.5 121.7,179.6 123.5,190.0 126.9,193.5 129.2,201.5 132.1,207.3 138.5,207.9 140.0,208.1 143.5,211.0 146.9,212.7 151.5,219.0 154.4,217.9 158.5,224.2 162.5,225.4 167.7,228.8 172.3,230.6 175.8,228.8 182.7,228.8 188.5,231.7 194.2,234.0 200.0,235.5 204.1,237.4 214.7,238.9 219.2,239.6 225.0,240.6 268.0,240.9" fill="none" stroke="#e020e0" stroke-width="1.5" stroke-linejoin="round"/>
<polyline points="310.5,239.6 324.2,239.6 328.8,236.7 332.8,234.4 335.7,230.4 339.2,222.3 342.0,214.2 343.8,206.2 344.9,196.9 346.3,186.0 348.0,172.0 349.3,160.0 350.4,150.0 350.9,145.9 351.5,134.6 352.6,123.3 353.2,112.0 353.5,98.5 354.6,88.1 355.8,80.0 356.9,74.8 358.7,72.5 359.8,74.2 361.0,69.6 362.1,63.3 363.3,65.0 364.4,76.5 365.0,88.1 365.6,93.8 366.5,100.8 367.7,97.3 370.0,105.4 372.3,101.9 374.0,110.0 375.8,122.7 378.1,122.7 381.0,131.9 383.3,125.0 385.6,122.7 387.3,115.8 389.6,127.3 391.3,131.9 393.1,127.3 394.8,135.4 397.1,145.8 399.4,129.6 401.2,133.1 402.9,143.5 404.0,154.0 406.2,167.7 409.2,173.8 411.5,186.2 413.1,196.9 414.6,204.2 416.9,210.4 420.0,211.9 423.1,218.1 426.9,221.2 430.8,224.2 434.6,228.8 439.2,233.5 443.8,237.3 448.5,238.3 455.0,239.3 516.0,239.6" fill="none" stroke="#e0201c" stroke-width="1.4" stroke-linejoin="round"/>
<polyline points="310.5,231.5 313.4,234.2 316.5,232.3 319.5,229.6 322.6,227.3 324.2,224.2 325.7,218.8 327.2,213.5 328.4,208.8 330.3,205.8 331.7,203.3 332.8,198.1 334.0,192.3 335.4,188.1 337.7,176.5 341.2,161.5 343.5,150.0 344.7,144.8 347.0,138.0 349.2,132.4 350.9,122.2 352.6,118.8 356.0,113.1 358.3,106.3 359.2,98.5 360.4,93.8 362.1,91.5 363.8,93.8 365.6,99.6 367.3,98.5 368.5,88.1 369.6,80.6 370.8,88.1 371.9,96.2 373.7,95.0 375.4,99.6 377.3,109.0 379.4,110.0 381.5,106.5 384.4,112.3 387.3,114.6 389.6,122.7 391.9,125.0 394.2,133.1 395.8,142.0 397.7,149.2 400.0,163.1 401.5,173.8 404.6,183.1 406.9,192.3 408.5,204.2 410.8,213.5 413.8,219.6 417.7,225.8 422.3,229.6 426.2,233.5 430.0,236.5 436.2,238.3 445.0,239.2 516.0,239.5" fill="none" stroke="#e020e0" stroke-width="1.4" stroke-linejoin="round"/>
<polyline points="310.5,238.1 316.5,238.1 321.8,235.0 326.5,231.9 330.3,229.6 331.8,224.2 332.6,216.5 333.8,209.6 334.9,205.0 336.8,195.8 338.3,186.0 339.6,170.0 340.6,158.0 341.3,145.9 343.0,132.4 344.2,117.6 344.8,100.8 345.6,86.9 346.5,73.1 347.7,62.7 349.4,58.1 351.2,60.4 352.3,66.2 353.5,75.4 354.4,86.9 354.8,98.5 356.2,106.5 357.3,123.8 358.5,141.2 359.0,150.0 359.6,161.5 361.3,175.4 364.2,183.5 366.5,182.3 368.3,186.9 370.0,193.8 371.5,198.1 373.5,202.0 376.2,208.3 380.4,211.3 384.2,216.7 388.8,216.7 393.1,219.6 397.7,223.5 402.3,225.8 406.9,230.4 413.1,234.2 420.8,237.3 428.5,238.8 436.2,239.1 516.0,239.3" fill="none" stroke="#22dd22" stroke-width="1.4" stroke-linejoin="round"/>
<polyline points="310.5,235.0 314.9,236.5 319.5,233.5 324.2,229.6 326.5,225.0 328.0,218.8 329.5,212.7 331.1,207.3 332.8,201.5 335.1,193.5 336.8,188.0 338.2,176.0 339.6,163.0 341.2,152.0 343.2,141.0 344.9,128.0 346.2,115.0 347.3,103.0 348.6,91.5 349.8,80.0 351.0,70.0 352.3,65.0 353.5,70.8 355.2,80.0 356.3,90.4 357.5,98.5 359.4,104.1 361.7,108.6 363.4,117.6 364.5,125.6 366.2,130.1 368.5,131.2 370.0,136.5 372.3,142.3 374.6,149.2 376.3,157.0 377.7,164.6 381.5,167.7 384.6,175.4 388.5,180.8 390.8,189.2 394.6,193.1 397.7,201.5 399.2,204.2 402.3,210.4 405.4,218.1 410.0,225.8 414.6,228.8 420.8,231.9 426.9,235.0 434.6,237.3 443.8,238.3 450.0,238.8 516.0,239.3" fill="none" stroke="#33e0e8" stroke-width="1.4" stroke-linejoin="round"/>
<polyline points="54.5,481.0 55.0,470.0 55.8,455.0 56.5,440.0 57.5,425.0 57.8,415.0 58.3,406.9 60.7,393.1 63.0,380.4 66.4,360.8 68.0,345.0 70.0,332.0 72.0,323.0 74.5,318.0 77.0,316.0 79.5,317.0 81.0,322.0 82.0,328.8 83.7,336.9 85.5,346.2 87.2,354.2 88.3,360.0 89.5,372.3 91.2,387.3 93.0,398.8 94.3,407.0 95.7,419.7 98.1,432.8 100.6,445.9 103.0,457.4 106.3,467.2 110.4,473.8 115.3,477.0 120.2,479.5 126.0,481.5 135.0,482.8 253.0,483.3" fill="none" stroke="#000" stroke-width="1.6" stroke-linejoin="round" stroke-dasharray="1.3 1.5"/>
<polyline points="53.6,481.2 54.4,471.0 55.8,460.8 58.0,449.2 60.2,434.7 62.3,421.6 64.5,410.0 65.3,403.5 67.6,389.6 69.9,372.3 72.2,355.0 72.8,346.2 74.5,332.3 76.2,323.1 78.0,318.5 80.3,312.7 83.2,312.7 85.5,315.0 87.2,323.1 88.3,334.6 90.1,343.8 91.8,351.9 93.0,360.0 94.7,368.8 96.4,383.8 98.2,395.4 99.5,406.0 100.8,418.0 102.0,430.0 103.2,443.0 104.8,455.0 106.6,465.5 109.6,472.0 113.7,476.2 119.4,478.7 126.0,481.5 135.0,482.8 253.0,483.3" fill="none" stroke="#b01818" stroke-width="1.6" stroke-linejoin="round" stroke-dasharray="1.3 1.5"/>
<polyline points="54.0,483.0 54.6,465.0 55.5,440.0 56.2,425.0 56.6,415.0 57.2,403.5 58.3,393.1 59.5,380.4 61.2,375.8 63.5,366.5 65.3,356.0 66.4,346.2 68.2,334.6 69.9,325.4 71.6,319.6 73.3,313.8 74.5,316.2 76.2,316.2 78.5,313.8 80.3,309.8 81.4,313.8 82.6,323.1 83.7,330.0 86.0,331.2 87.8,334.6 89.5,339.2 91.8,343.8 94.1,348.5 95.8,353.1 97.6,360.0 98.5,362.0 100.5,368.8 102.0,378.1 103.2,389.6 104.6,401.0 106.3,411.0 108.0,418.7 110.0,428.5 112.2,438.5 114.5,448.5 116.8,457.0 119.8,460.4 122.8,465.4 125.6,468.3 129.8,471.0 133.4,469.7 137.8,472.5 142.1,473.9 149.4,473.2 158.1,473.9 165.0,474.3 170.2,474.1 175.4,474.3 180.6,475.5 185.8,476.7 191.0,477.7 196.2,478.9 203.1,479.8 216.9,479.8 220.4,480.7 223.8,482.1 230.8,483.2 253.0,483.3" fill="none" stroke="#000" stroke-width="2.5" stroke-linejoin="round"/>
<polyline points="54.4,460.8 56.5,459.4 58.5,455.0 61.6,452.1 63.8,449.6 66.3,447.3 68.6,442.5 71.0,441.5 74.0,444.0 77.6,444.1 79.8,441.2 81.2,444.9 83.4,445.6 85.6,440.5 87.8,435.0 89.8,428.0 91.2,420.0 92.6,411.0 94.2,402.0 95.8,393.0 97.5,383.0 99.3,367.0 100.6,355.0 101.2,346.0 101.9,330.0 103.1,324.2 104.2,323.1 105.4,312.7 106.2,309.8 107.7,312.7 109.4,318.5 110.6,320.8 111.7,332.3 112.9,335.8 113.5,342.7 114.0,350.8 115.2,355.4 116.2,364.2 117.9,373.5 119.6,381.5 121.3,389.6 123.1,398.8 124.8,406.9 126.0,413.1 128.3,423.1 130.5,430.0 132.5,434.4 135.6,439.1 139.2,446.3 142.9,449.2 145.8,455.0 149.4,460.8 153.8,464.5 158.1,465.9 162.5,468.8 166.8,467.4 170.2,468.6 175.4,468.6 180.6,470.3 185.8,469.8 191.0,472.0 196.2,473.7 201.3,474.6 208.3,475.5 215.2,475.5 220.4,476.7 227.3,478.1 234.2,479.8 239.4,481.5 244.6,482.4 253.0,483.0" fill="none" stroke="#dd1111" stroke-width="2.5" stroke-linejoin="round"/>
<polyline points="324.6,484.0 327.9,479.1 333.8,476.2 339.6,474.7 344.1,471.8 348.5,468.1 351.4,462.9 354.4,454.1 357.3,442.4 359.5,429.1 361.7,417.4 362.8,410.0 363.7,401.2 364.8,389.6 366.0,378.1 367.1,366.5 368.6,355.0 370.6,346.2 371.7,334.6 373.5,323.1 375.2,319.6 376.9,318.5 379.6,323.1 381.8,330.5 384.2,340.4 385.8,350.8 386.8,362.0 387.3,378.0 388.3,392.0 389.2,405.0 390.2,420.5 391.7,436.0 393.3,451.5 394.8,467.0 396.4,479.3 397.9,483.2 513.0,484.3" fill="none" stroke="#000" stroke-width="1.6" stroke-linejoin="round" stroke-dasharray="1.3 1.5"/>
<polyline points="324.6,484.0 335.0,482.5 340.0,480.0 344.1,476.0 348.5,471.0 351.4,465.5 354.4,457.0 357.0,446.0 359.5,432.0 361.7,420.0 362.5,415.0 363.7,401.2 364.8,389.6 366.0,378.1 367.1,366.5 367.7,355.0 369.4,336.9 371.2,323.1 373.5,313.8 375.8,309.8 377.5,315.0 379.2,321.9 381.0,328.8 382.7,338.1 384.4,348.5 386.2,360.0 387.3,375.0 388.2,390.0 389.2,405.0 390.2,420.5 391.7,436.0 393.3,451.5 394.8,467.0 396.4,479.3 397.9,483.2 513.0,484.3" fill="none" stroke="#b01818" stroke-width="1.6" stroke-linejoin="round" stroke-dasharray="1.3 1.5"/>
<polyline points="324.6,484.6 324.8,466.0 325.6,468.0 326.4,480.6 329.4,478.4 333.0,476.2 336.7,471.8 340.4,464.4 343.3,454.1 345.5,446.8 347.7,436.5 349.2,429.1 351.0,421.8 352.6,414.0 354.4,405.8 356.2,398.8 358.5,389.6 359.6,380.4 360.8,370.0 362.3,363.0 363.7,351.9 365.4,343.8 367.1,336.9 368.8,327.7 370.6,320.8 372.9,324.8 374.6,321.3 376.3,318.5 378.1,324.2 379.2,332.3 380.4,339.2 382.1,346.2 383.3,353.1 384.4,362.0 386.2,378.1 387.9,383.8 389.6,390.0 390.8,398.8 392.3,405.8 394.2,411.0 397.2,417.4 399.5,423.6 401.0,428.2 401.8,423.6 404.1,425.1 406.5,436.0 408.8,448.4 411.1,459.2 413.4,470.0 416.5,477.8 420.4,480.9 425.0,482.6 429.7,483.6 513.0,484.3" fill="none" stroke="#000" stroke-width="2.5" stroke-linejoin="round"/>
<polyline points="324.6,483.6 336.7,482.8 344.1,482.1 349.9,479.9 353.6,478.4 357.3,474.7 361.0,468.8 363.2,460.0 365.4,451.2 366.9,439.4 368.3,427.6 369.8,417.4 371.2,409.0 373.5,401.2 375.2,389.6 376.3,378.1 376.9,366.5 379.2,361.9 381.0,349.6 383.3,339.2 385.0,334.6 386.2,331.2 388.5,328.8 390.8,331.2 392.5,326.5 394.2,317.9 396.0,317.3 397.7,323.1 399.4,315.6 401.2,317.3 402.9,325.4 404.6,334.6 406.0,345.8 408.3,348.7 408.8,357.3 410.6,365.4 411.7,374.6 413.5,380.4 414.0,389.6 415.2,400.0 415.8,405.0 417.3,414.3 419.6,425.1 422.0,436.0 424.3,440.6 425.8,449.2 428.1,455.0 431.0,460.8 432.7,465.4 436.2,470.0 439.6,474.6 443.1,479.2 447.7,482.7 452.3,483.8 513.0,484.3" fill="none" stroke="#dd1111" stroke-width="2.5" stroke-linejoin="round"/>
<polygon points="52,298.6 55.4,298.6 55.2,440 54.6,470 54,483.3 52,483.3" fill="url(#gbar)"/>
</svg></body></html>
